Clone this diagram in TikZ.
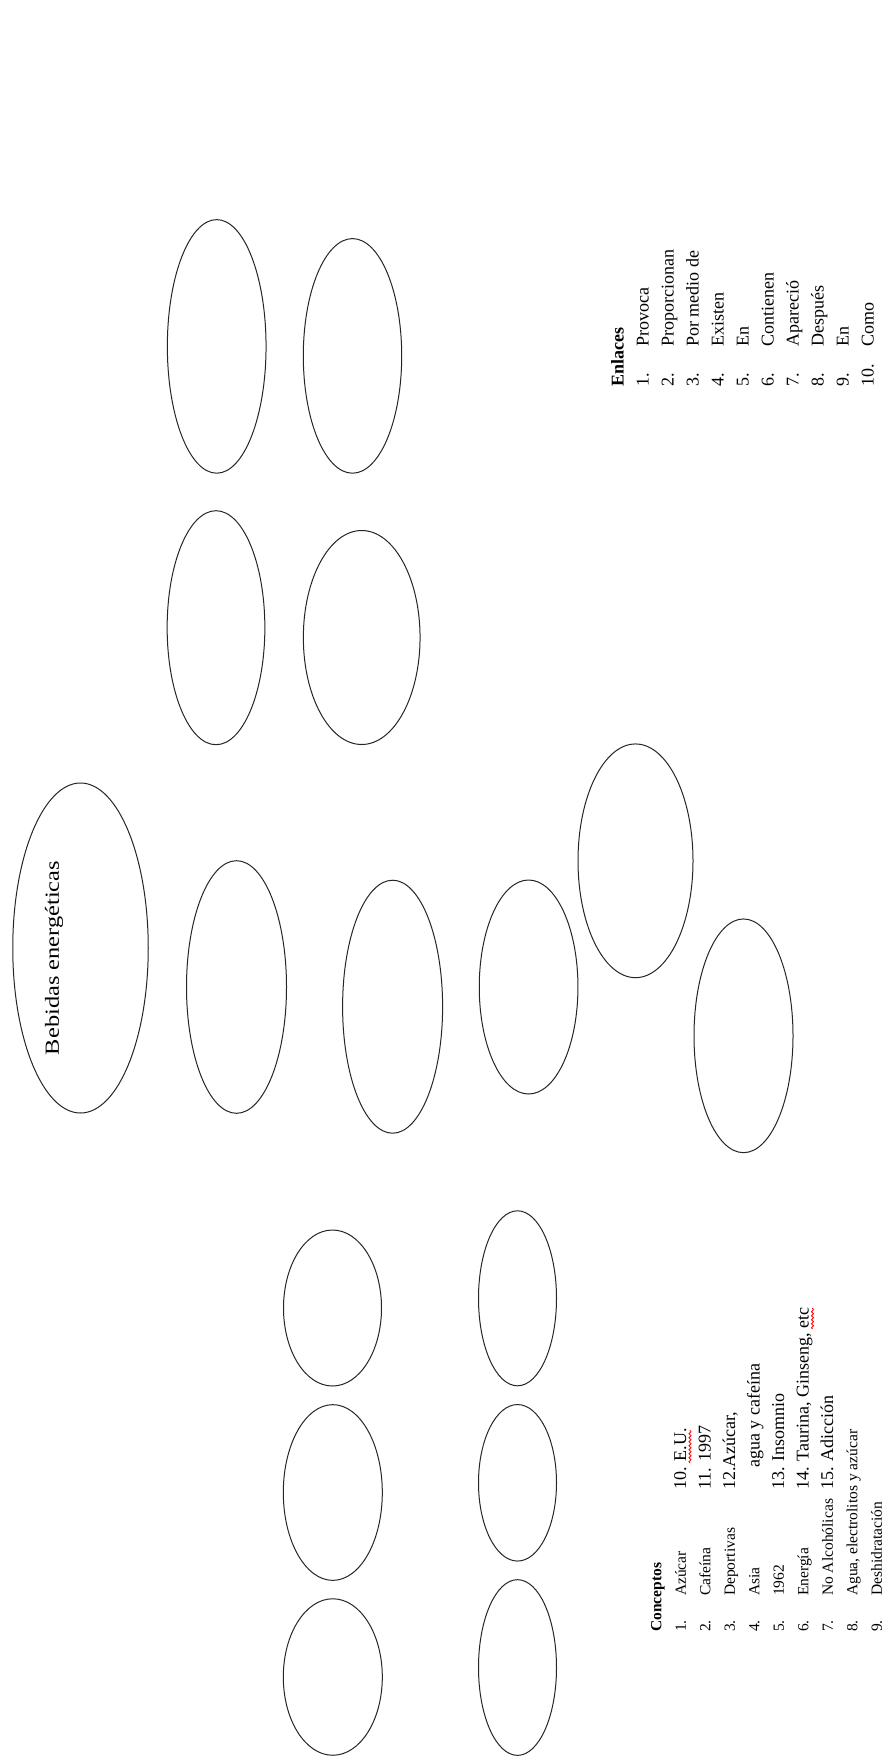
\documentclass[tikz,border=0pt]{standalone}
\usepackage{fontspec}
\setmainfont{Liberation Serif}
\newfontfamily\anchafont[FakeStretch=1.22]{Liberation Serif}
\usetikzlibrary{shapes.geometric,decorations.pathmorphing}
\newcommand\numlista[1]{\makebox[40pt][l]{#1}}
\newcommand\numconcepto[1]{\makebox[36pt][l]{#1}}
\tikzset{
    mapaovalo/.style={draw=black!85, line width=1pt, ellipse, inner sep=0pt},
    mapalista/.style={rotate=90, anchor=north west, inner sep=0pt, align=left, font=\fontsize{18}{25}\selectfont},
    mapatitulo/.style={rotate=90, inner sep=0pt, font=\anchafont\fontsize{20}{24}\selectfont},
    ortografia/.style={draw=red, line width=0.8pt, decorate, decoration={snake, amplitude=1.1pt, segment length=4pt}}
}

\begin{document}
\begin{tikzpicture}[x=1pt, y=-1pt]
        \path[use as bounding box, fill=white] (0,0) rectangle (895,1760);
        % concepto principal
        \node[mapaovalo, minimum width=135.5pt, minimum height=330pt] (bebidas) at (80.5,948) {};
        \node[mapatitulo] (bebidastxt) at (54,958) {Bebidas energéticas};
        % ovalos de arriba
        \node[mapaovalo, minimum width=98.7pt, minimum height=253.6pt] (c1) at (216.7,346.4) {};
        \node[mapaovalo, minimum width=98.4pt, minimum height=234.6pt] (c2) at (352.5,355.9) {};
        \node[mapaovalo, minimum width=97.7pt, minimum height=234pt] (c3) at (216,627.7) {};
        \node[mapaovalo, minimum width=116.7pt, minimum height=214pt] (c4) at (361.7,637.5) {};
        % ovalos del centro
        \node[mapaovalo, minimum width=100pt, minimum height=252.6pt] (c5) at (236.5,987) {};
        \node[mapaovalo, minimum width=100pt, minimum height=253pt] (c6) at (392.6,1006.7) {};
        \node[mapaovalo, minimum width=98.7pt, minimum height=214pt] (c7) at (528.6,987) {};
        \node[mapaovalo, minimum width=115pt, minimum height=233.7pt] (c8) at (635.5,860.8) {};
        \node[mapaovalo, minimum width=99pt, minimum height=233.7pt] (c9) at (743.5,1035.8) {};
        % ovalos de abajo
        \node[mapaovalo, minimum width=98pt, minimum height=156pt] (c10) at (332.5,1308) {};
        \node[mapaovalo, minimum width=78pt, minimum height=175pt] (c11) at (517.5,1298.3) {};
        \node[mapaovalo, minimum width=99pt, minimum height=175.7pt] (c12) at (332.8,1492.5) {};
        \node[mapaovalo, minimum width=78pt, minimum height=156.5pt] (c13) at (517.5,1482.8) {};
        \node[mapaovalo, minimum width=99pt, minimum height=156.5pt] (c14) at (332.8,1677) {};
        \node[mapaovalo, minimum width=78pt, minimum height=175.7pt] (c15) at (517.5,1667.5) {};
        % listas
        \node[mapalista] (enlaces) at (611,387) {\textbf{Enlaces}\\
            \numlista{1.}Provoca\\ \numlista{2.}Proporcionan\\ \numlista{3.}Por medio de\\
            \numlista{4.}Existen\\ \numlista{5.}En\\ \numlista{6.}Contienen\\
            \numlista{7.}Apareció\\ \numlista{8.}Después\\ \numlista{9.}En\\ \numlista{10.}Como};
        \node[mapalista, font=\fontsize{15.5}{24.5}\selectfont] (conceptos) at (651,1632) {\textbf{Conceptos}\\
            \numconcepto{1.}Azúcar\\ \numconcepto{2.}Cafeína\\ \numconcepto{3.}Deportivas\\
            \numconcepto{4.}Asia\\ \numconcepto{5.}1962\\ \numconcepto{6.}Energía\\
            \numconcepto{7.}No Alcohólicas\\ \numconcepto{8.}Agua, electrolitos y azúcar\\ \numconcepto{9.}Deshidratación};
        \node[mapalista, font=\fontsize{18}{24.5}\selectfont] (conceptosb) at (674,1490) {10. E.U.\\
            11. 1997\\ 12.Azúcar,\\ \hspace*{22pt}agua y cafeína\\ 13. Insomnio\\
            14. Taurina, Ginseng, etc\\ 15. Adicción};
        % subrayado del corrector
        \coordinate (euini) at (690,1463);
        \coordinate (eufin) at (690,1430);
        \coordinate (etcini) at (812.5,1329);
        \coordinate (etcfin) at (812.5,1308);
        \draw[ortografia] (euini) -- (eufin);
        \draw[ortografia] (etcini) -- (etcfin);
    \end{tikzpicture}
\end{document}
